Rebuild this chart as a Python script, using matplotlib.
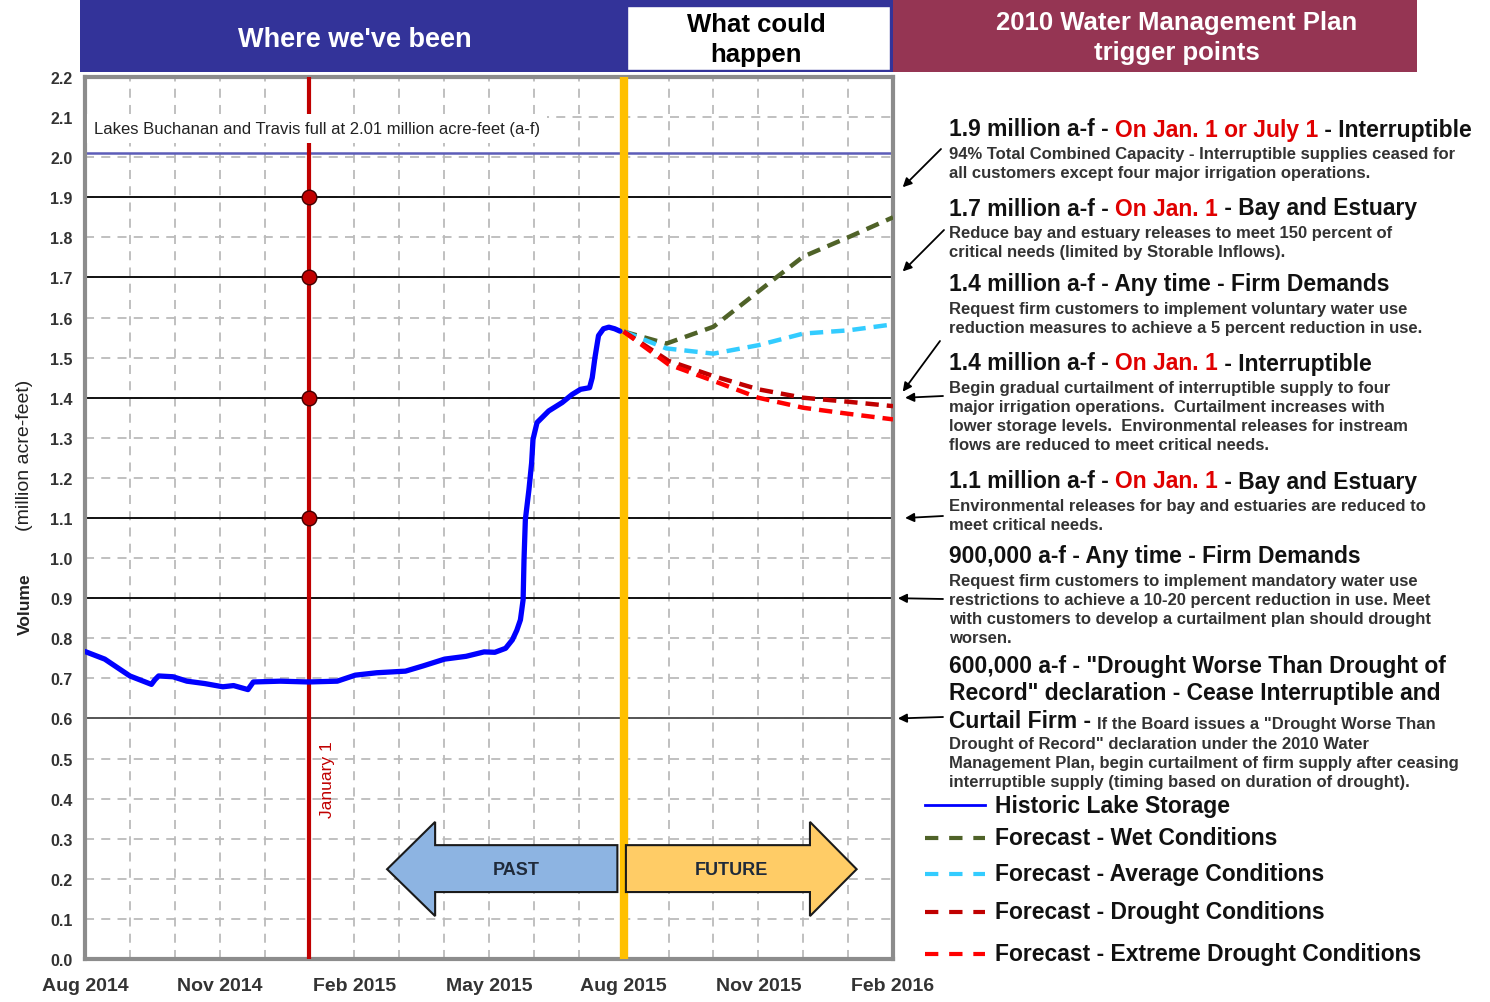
import numpy as np
import matplotlib
matplotlib.use("Agg")
import matplotlib.pyplot as plt
from matplotlib.patches import Rectangle, Polygon
from matplotlib.lines import Line2D

plt.rcParams['font.family'] = ['Liberation Sans', 'DejaVu Sans']

W, H = 1490, 1003

# months counted from Aug 1 2014
hist_month = [0.0, 0.44, 1.0, 1.48, 1.56, 1.64, 1.96, 2.27, 2.67, 3.07, 3.31, 3.63, 3.75,
              4.35, 4.98, 5.62, 6.02, 6.5, 7.14, 7.53, 8.01, 8.49, 8.89, 9.13, 9.37, 9.52,
              9.62, 9.70, 9.76, 9.78, 9.81, 9.89, 9.95, 9.98, 10.07, 10.33, 10.63, 10.85,
              11.04, 11.24, 11.30, 11.36, 11.44, 11.55, 11.67, 11.80, 11.92]
hist_vol = [0.767, 0.748, 0.706, 0.685, 0.697, 0.706, 0.704, 0.693, 0.687, 0.679, 0.682, 0.672, 0.691,
            0.693, 0.691, 0.693, 0.708, 0.714, 0.718, 0.731, 0.748, 0.755, 0.766, 0.765, 0.775, 0.796,
            0.82, 0.846, 0.896, 0.996, 1.096, 1.171, 1.238, 1.296, 1.338, 1.367, 1.388, 1.408,
            1.421, 1.425, 1.45, 1.50, 1.555, 1.572, 1.576, 1.572, 1.566]

wet_month = [12, 12.95, 14, 15, 15.4, 16, 17, 18]
wet_vol = [1.565, 1.535, 1.577, 1.665, 1.70, 1.752, 1.80, 1.85]
avg_month = [12, 12.95, 14, 15, 16, 17, 18]
avg_vol = [1.565, 1.523, 1.51, 1.531, 1.56, 1.568, 1.583]
dry_month = [12, 13, 14, 15, 16, 17, 18]
dry_vol = [1.565, 1.492, 1.454, 1.421, 1.40, 1.39, 1.379]
ext_month = [12, 13, 14, 15, 16, 17, 18]
ext_vol = [1.565, 1.483, 1.442, 1.40, 1.375, 1.36, 1.346]

trigger_levels = [1.9, 1.7, 1.4, 1.1, 0.9, 0.6]
jan1_levels = [1.9, 1.7, 1.4, 1.1]
full_level = 2.01
jan1_month = 5
now_month = 12

xtick_pos = [0, 3, 6, 9, 12, 15, 18]
xtick_lab = ['Aug 2014', 'Nov 2014', 'Feb 2015', 'May 2015', 'Aug 2015', 'Nov 2015', 'Feb 2016']


def fx(px):
    return px / W


def fy(py):
    return 1 - py / H


fig = plt.figure(figsize=(14.9, 10.03), dpi=100)
ax = fig.add_axes([fx(85), fy(960), 808 / W, 882 / H])
ax.set_xlim(0, 18)
ax.set_ylim(0, 2.2)

# grid
ax.set_yticks(np.round(np.arange(0, 2.21, 0.1), 1))
ax.set_yticklabels([f'{v:.1f}' for v in np.arange(0, 2.21, 0.1)])
ax.set_xticks(xtick_pos)
ax.set_xticklabels(xtick_lab)
ax.set_xticks(np.arange(0, 19), minor=True)
ax.grid(True, which='both', axis='x', ls=(0, (5, 4)), color='#BBBBBB', lw=1.3)
ax.grid(True, which='major', axis='y', ls=(0, (5, 4)), color='#BBBBBB', lw=1.3)
ax.tick_params(axis='both', which='both', length=0)
ax.tick_params(axis='y', pad=9, labelsize=11.5, labelcolor='#333333')
ax.tick_params(axis='x', pad=13, labelsize=14, labelcolor='#333333')
for lab in ax.get_xticklabels() + ax.get_yticklabels():
    lab.set_fontweight('bold')
for s in ax.spines.values():
    s.set_color('#8C8C8C')
    s.set_linewidth(3)

for lv in trigger_levels:
    ax.axhline(lv, color='#111111' if lv > 0.7 else '#555555', lw=1.4, zorder=2)
ax.axhline(full_level, color='#5C5CB8', lw=1.8, zorder=2)

ax.axvline(jan1_month, color='#C00000', lw=3, zorder=3)
ax.axvline(now_month, color='#FFC000', lw=6, zorder=3)
ax.plot([jan1_month] * len(jan1_levels), jan1_levels, 'o', ms=10.5, color='#C00000',
        mec='#400000', mew=1, zorder=6)

ax.plot(hist_month, hist_vol, color='#0000FF', lw=3.8, zorder=5, solid_capstyle='round')
ax.plot(wet_month, wet_vol, color='#4F6228', lw=3.2, dashes=(3, 1.8), zorder=5)
ax.plot(avg_month, avg_vol, color='#33CCFF', lw=3.2, dashes=(3, 1.8), zorder=5)
ax.plot(dry_month, dry_vol, color='#C00000', lw=3.2, dashes=(3, 1.8), zorder=5)
ax.plot(ext_month, ext_vol, color='#FF0000', lw=3.2, dashes=(3, 1.8), zorder=5)

ax.text(0.2, 2.072, 'Lakes Buchanan and Travis full at 2.01 million acre-feet (a-f)',
        fontsize=12, color='#222222', va='center', ha='left', zorder=7,
        bbox=dict(facecolor='white', edgecolor='none', pad=5))
ax.text(5.41, 0.45, 'January 1', rotation=90, color='#C00000', fontsize=12.5,
        va='center', ha='center', zorder=7)

# PAST / FUTURE arrows
past = Polygon([(6.73, 0.224), (7.8, 0.342), (7.8, 0.284), (11.86, 0.284), (11.86, 0.167),
                (7.8, 0.167), (7.8, 0.107)], closed=True, fc='#8DB4E2', ec='#1A1A1A', lw=1.5, zorder=4)
future = Polygon([(12.05, 0.284), (16.15, 0.284), (16.15, 0.342), (17.19, 0.224), (16.15, 0.107),
                  (16.15, 0.167), (12.05, 0.167)], closed=True, fc='#FFCC66', ec='#1A1A1A', lw=1.5, zorder=4)
ax.add_patch(past)
ax.add_patch(future)
ax.text(9.6, 0.222, 'PAST', fontsize=13, fontweight='bold', color='#1F2A3A', ha='center', va='center', zorder=5)
ax.text(14.4, 0.222, 'FUTURE', fontsize=13, fontweight='bold', color='#1F2A3A', ha='center', va='center', zorder=5)

# y label
fig.text(fx(25), fy(604), 'Volume', rotation=90, fontsize=12.5, fontweight='bold', color='#222222',
         ha='center', va='center')
fig.text(fx(25), fy(455), '(million acre-feet)', rotation=90, fontsize=14, color='#222222',
         ha='center', va='center')

# header bars
fig.add_artist(Rectangle((fx(80), fy(73)), 813 / W, 73 / H, transform=fig.transFigure,
                         fc='#333399', ec='none'))
fig.add_artist(Rectangle((fx(627), fy(71)), 263 / W, 64 / H, transform=fig.transFigure,
                         fc='white', ec='#333399', lw=1))
fig.add_artist(Rectangle((fx(893), fy(73)), 524 / W, 73 / H, transform=fig.transFigure,
                         fc='#953553', ec='none'))
fig.text(fx(355), fy(40), "Where we've been", color='white', fontsize=19.5, fontweight='bold',
         ha='center', va='center')
fig.text(fx(756), fy(40), 'What could\nhappen', color='black', fontsize=18.5, fontweight='bold',
         ha='center', va='center', linespacing=1.3)
fig.text(fx(1177), fy(38), '2010 Water Management Plan\ntrigger points', color='white', fontsize=18.5,
         fontweight='bold', ha='center', va='center', linespacing=1.33)

# trigger descriptions
K, R = '#111111', '#E00000'
HS, BS = 16.5, 12


def heading(y_px, parts, size=HS):
    t = fig.text(fx(949), fy(y_px), parts[0][0], color=parts[0][1], fontsize=size,
                 fontweight='bold', ha='left', va='center')
    for s, c in parts[1:]:
        t = ax.annotate(s, xy=(1, 0), xycoords=t, color=c, fontsize=size, fontweight='bold',
                        ha='left', va='bottom')
    return t


def body(y_px, s):
    fig.text(fx(949), fy(y_px), s, color='#333333', fontsize=BS, fontweight='bold', ha='left',
             va='top', linespacing=1.34)


blocks = [
    (130, [('1.9 million a-f - ', K), ('On Jan. 1 or July 1', R), (' - Interruptible', K)],
     '94% Total Combined Capacity - Interruptible supplies ceased for\n'
     'all customers except four major irrigation operations.'),
    (209, [('1.7 million a-f - ', K), ('On Jan. 1', R), (' - Bay and Estuary', K)],
     'Reduce bay and estuary releases to meet 150 percent of\n'
     'critical needs (limited by Storable Inflows).'),
    (285, [('1.4 million a-f - Any time - Firm Demands', K)],
     'Request firm customers to implement voluntary water use\n'
     'reduction measures to achieve a 5 percent reduction in use.'),
    (364, [('1.4 million a-f - ', K), ('On Jan. 1', R), (' - Interruptible', K)],
     'Begin gradual curtailment of interruptible supply to four\n'
     'major irrigation operations.  Curtailment increases with\n'
     'lower storage levels.  Environmental releases for instream\n'
     'flows are reduced to meet critical needs.'),
    (482, [('1.1 million a-f - ', K), ('On Jan. 1', R), (' - Bay and Estuary', K)],
     'Environmental releases for bay and estuaries are reduced to\n'
     'meet critical needs.'),
    (557, [('900,000 a-f - Any time - Firm Demands', K)],
     'Request firm customers to implement mandatory water use\n'
     'restrictions to achieve a 10-20 percent reduction in use. Meet\n'
     'with customers to develop a curtailment plan should drought\n'
     'worsen.'),
]
for hy, parts, txt in blocks:
    heading(hy, parts)
    body(hy + 17, txt)

heading(667, [('600,000 a-f - "Drought Worse Than Drought of', K)])
heading(694, [('Record" declaration - Cease Interruptible and', K)])
t = fig.text(fx(949), fy(721), 'Curtail Firm - ', color=K, fontsize=HS, fontweight='bold',
             ha='left', va='center')
ax.annotate('If the Board issues a "Drought Worse Than', xy=(1, 0.03), xycoords=t, color='#333333',
            fontsize=BS, fontweight='bold', ha='left', va='bottom')
body(737, 'Drought of Record" declaration under the 2010 Water\n'
          'Management Plan, begin curtailment of firm supply after ceasing\n'
          'interruptible supply (timing based on duration of drought).')

# arrows from descriptions to trigger levels
arrow_src = [(941, 150), (944, 231), (940, 342), (943, 397), (943, 517), (943, 600), (943, 718)]
arrow_lvl = [1.925, 1.715, 1.415, 1.4, 1.1, 0.9, 0.6]
arrow_x = [1.012, 1.012, 1.012, 1.015, 1.015, 1.006, 1.006]
for (sx, sy), lv, axx in zip(arrow_src, arrow_lvl, arrow_x):
    ax.annotate('', xy=(axx, lv), xycoords=('axes fraction', 'data'),
                xytext=(fx(sx), fy(sy)), textcoords='figure fraction',
                arrowprops=dict(arrowstyle='-|>', color='black', lw=1.3, mutation_scale=13,
                                shrinkA=0, shrinkB=0))

# legend
leg_y = [806, 839, 875, 913, 955]
leg_lab = ['Historic Lake Storage', 'Forecast - Wet Conditions', 'Forecast - Average Conditions',
           'Forecast - Drought Conditions', 'Forecast - Extreme Drought Conditions']
leg_col = ['#0000FF', '#4F6228', '#33CCFF', '#C00000', '#FF0000']
for i, (yy, lab, col) in enumerate(zip(leg_y, leg_lab, leg_col)):
    if i == 0:
        ln = Line2D([fx(925), fx(985)], [fy(yy), fy(yy)], transform=fig.transFigure, color=col, lw=2)
    else:
        ln = Line2D([fx(925), fx(985)], [fy(yy), fy(yy)], transform=fig.transFigure, color=col, lw=3,
                    dashes=(3.2, 2.6))
    fig.add_artist(ln)
    fig.text(fx(995), fy(yy), lab, fontsize=HS, fontweight='bold', color=K, ha='left', va='center')

fig.savefig('out.png', dpi=100)
